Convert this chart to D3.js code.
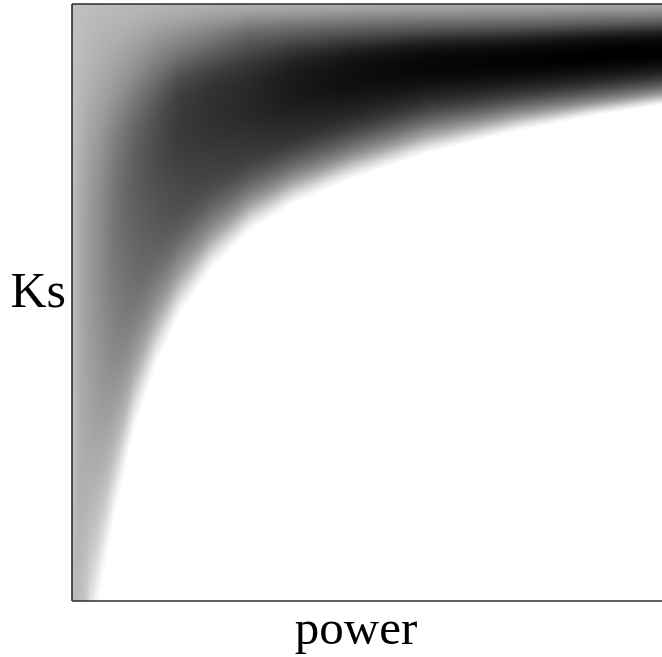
<!DOCTYPE html>
<html><head><meta charset="utf-8">
<script src="https://cdn.jsdelivr.net/npm/d3@7"></script>
<style>html,body{margin:0;padding:0;background:#fff;overflow:hidden}</style>
</head><body>
<script>
// Columns along "power" at which the density profile down the Ks axis was read
const powerCols = [0, 0.015, 0.03, 0.05, 0.07, 0.105, 0.14, 0.18, 0.235, 0.3, 0.37, 0.47, 0.6, 0.75, 0.88, 1.0];
// Ks of the darkest point in each column
const ksPeak = [0.571, 0.580, 0.596, 0.613, 0.647, 0.709, 0.755, 0.789, 0.814, 0.839, 0.858, 0.876, 0.893, 0.903, 0.913, 0.920];
// Ks below which the column is white (zero density)
const ksEdge = [-0.836, -0.333, -0.099, 0.018, 0.127, 0.283, 0.387, 0.474, 0.554, 0.618, 0.662, 0.705, 0.749, 0.786, 0.812, 0.831];
// density (0 white .. 1 black): top, 1/3 to peak, 2/3 to peak, peak, 1/4 to edge, 1/2, 3/4, edge
const densityProfiles = [
  [0.25,0.25,0.26,0.26,0.25,0.24,0.15,0],
  [0.25,0.28,0.32,0.34,0.33,0.29,0.18,0],
  [0.26,0.31,0.38,0.40,0.38,0.33,0.21,0],
  [0.27,0.34,0.43,0.46,0.44,0.38,0.24,0],
  [0.27,0.37,0.50,0.54,0.51,0.44,0.28,0],
  [0.28,0.41,0.58,0.63,0.60,0.53,0.34,0],
  [0.29,0.46,0.64,0.70,0.665,0.59,0.37,0],
  [0.30,0.50,0.73,0.77,0.73,0.65,0.40,0],
  [0.31,0.55,0.77,0.81,0.77,0.68,0.42,0],
  [0.32,0.61,0.80,0.85,0.81,0.72,0.44,0],
  [0.32,0.62,0.85,0.90,0.86,0.75,0.46,0],
  [0.33,0.62,0.89,0.945,0.89,0.75,0.45,0],
  [0.34,0.61,0.91,0.975,0.90,0.72,0.41,0],
  [0.34,0.60,0.91,0.99,0.92,0.74,0.42,0],
  [0.35,0.60,0.92,1.0,0.94,0.77,0.46,0],
  [0.35,0.60,0.92,1.0,0.94,0.77,0.46,0]
];
const xLabel = "power";
const yLabel = "Ks";

const W = 662, H = 657;
const x = d3.scaleLinear().domain([0, 1]).range([72, 664]);
const y = d3.scaleLinear().domain([0, 1]).range([601, 4]);
const shade = d3.scaleLinear().domain([0, 1]).range([255, 0]).clamp(true);

// stop positions (Ks) per column
const stopsKs = powerCols.map((p, i) => {
  const pk = ksPeak[i], e = ksEdge[i];
  return [1, 1 - (1 - pk) / 3, 1 - 2 * (1 - pk) / 3, pk,
          pk - (pk - e) / 4, pk - (pk - e) / 2, pk - 3 * (pk - e) / 4, e];
});

function cr(p0, p1, p2, p3, u) {
  return 0.5 * (2 * p1 + (-p0 + p2) * u + (2 * p0 - 5 * p1 + 4 * p2 - p3) * u * u + (-p0 + 3 * p1 - 3 * p2 + p3) * u * u * u);
}

const pw = Math.round(x(1) - x(0)), ph = Math.round(y(0) - y(1));
const canvas = document.createElement("canvas");
canvas.width = pw; canvas.height = ph;
const ctx = canvas.getContext("2d");
const img = ctx.createImageData(pw, ph);
const n = powerCols.length;
for (let i = 0; i < pw; i++) {
  const p = x.invert(x(0) + i + 0.5);
  let c = d3.bisectRight(powerCols, p) - 1;
  c = Math.max(0, Math.min(n - 2, c));
  const t = (p - powerCols[c]) / (powerCols[c + 1] - powerCols[c]);
  const sk = stopsKs[c].map((v, k) => v + (stopsKs[c + 1][k] - v) * t);
  const sd = densityProfiles[c].map((v, k) => v + (densityProfiles[c + 1][k] - v) * t);
  const m = sk.length;
  for (let j = 0; j < ph; j++) {
    const ks = y.invert(y(1) + j + 0.5);
    let d;
    if (ks >= sk[0]) d = sd[0];
    else if (ks <= sk[m - 1]) d = 0;
    else {
      let k = 0;
      while (ks < sk[k + 1]) k++;
      const u = (sk[k] - ks) / (sk[k] - sk[k + 1]);
      const p0 = sd[Math.max(0, k - 1)], p1 = sd[k], p2 = sd[k + 1], p3 = k + 2 < m ? sd[k + 2] : 0;
      d = cr(p0, p1, p2, p3, u);
    }
    const g = Math.round(shade(d));
    const o = (j * pw + i) * 4;
    img.data[o] = g; img.data[o + 1] = g; img.data[o + 2] = g; img.data[o + 3] = 255;
  }
}
ctx.putImageData(img, 0, 0);

const svg = d3.select("body").append("svg")
  .attr("width", W).attr("height", H)
  .style("display", "block");

svg.append("image")
  .attr("x", x(0)).attr("y", y(1))
  .attr("width", pw).attr("height", ph)
  .attr("preserveAspectRatio", "none")
  .attr("href", canvas.toDataURL());

const frame = svg.append("g").attr("stroke", "#2a2a2a").attr("stroke-width", 1.6).attr("fill", "none");
frame.append("line").attr("x1", x(0)).attr("x2", x(1)).attr("y1", y(1)).attr("y2", y(1));
frame.append("line").attr("x1", x(0)).attr("x2", x(1)).attr("y1", y(0)).attr("y2", y(0));
frame.append("line").attr("x1", x(0)).attr("x2", x(0)).attr("y1", y(1)).attr("y2", y(0));

svg.append("text")
  .attr("x", 356).attr("y", 644)
  .attr("text-anchor", "middle")
  .attr("font-family", "'Liberation Serif', 'DejaVu Serif', serif")
  .attr("font-size", 49)
  .attr("fill", "#000")
  .text(xLabel);

svg.append("text")
  .attr("x", 66).attr("y", 307)
  .attr("text-anchor", "end")
  .attr("font-family", "'Liberation Serif', 'DejaVu Serif', serif")
  .attr("font-size", 50)
  .attr("fill", "#000")
  .text(yLabel);
</script>
</body></html>
